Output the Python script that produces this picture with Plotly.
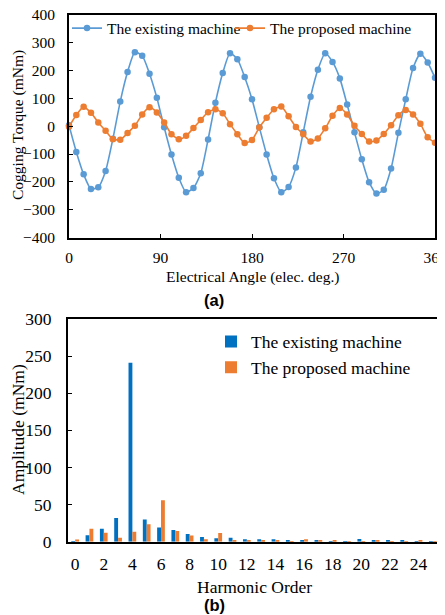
import plotly.graph_objects as go

# ---------------- data ----------------
angle_step = 7.2
angles = [round(i * angle_step, 1) for i in range(51)]

existing_torque = [3, -93, -173, -225, -219, -161, -45, 88, 194, 265, 252, 188, 102,
                   -4, -102, -185, -237, -222, -169, -48, 84, 190, 261, 240, 176, 96,
                   -4, -102, -187, -237, -218, -148, -22, 105, 202, 261, 230, 171, 77,
                   -22, -119, -201, -242, -228, -152, -24, 96, 208, 259, 228, 173]

proposed_torque = [-2, 40, 69, 48, 13, -17, -47, -49, -25, 1, 42, 68, 49,
                   13, -29, -47, -35, -7, 22, 50, 60, 46, 7, -29, -61, -50,
                   -5, 30, 60, 70, 35, -3, -29, -55, -44, -8, 37, 65, 42,
                   1, -28, -55, -52, -28, 3, 39, 58, 42, 8, -40, -60]

harmonic_order = list(range(26))
existing_amp = [0.3, 8.6, 17.5, 32, 241, 30, 19, 15.7, 10.4, 6.2, 4.5, 5.4, 3.2,
                3.2, 3.2, 2.3, 1.5, 1.5, 0.5, 0.3, 3.6, 1.5, 1.3, 1.3, 0.3, 0.3]
proposed_amp = [3, 17.5, 12, 5.4, 13.5, 23.4, 56, 14.4, 8.5, 3.2, 11.7, 2.3, 2.3,
                2.0, 1.5, 0.5, 3.3, 1.5, 2.0, 0.3, 0.3, 1.5, 0.5, 0.3, 1.5, 0.5]

top_xticks = [0, 90, 180, 270, 360]
top_yticks = list(range(-400, 401, 100))
bot_xticks = list(range(0, 25, 2))
bot_yticks = list(range(0, 301, 50))

names = ["The existing machine", "The proposed machine"]

# page is 445x615; the page body adds an 8px margin around the figure
OFF = 8
W, H = 445 - OFF, 615 - OFF
SERIF = "Liberation Serif"
SANS = "Liberation Sans"

def px_x(p):
    return (p - OFF) / W

def px_y(p):
    return 1 - (p - OFF) / H

fig = go.Figure()

fig.add_trace(go.Scatter(x=angles, y=existing_torque, mode="lines+markers", name=names[0],
                         line=dict(color="#5B9BD5", width=1.6, shape="spline", smoothing=0.6),
                         marker=dict(color="#5B9BD5", size=6.5), cliponaxis=False,
                         xaxis="x", yaxis="y", legend="legend"))
fig.add_trace(go.Scatter(x=angles, y=proposed_torque, mode="lines+markers", name=names[1],
                         line=dict(color="#ED7D31", width=1.6, shape="spline", smoothing=0.6),
                         marker=dict(color="#ED7D31", size=6.5), cliponaxis=False,
                         xaxis="x", yaxis="y", legend="legend2"))

fig.add_trace(go.Bar(x=harmonic_order, y=existing_amp, name=names[0],
                     marker=dict(color="#0070C0", line=dict(width=0)),
                     xaxis="x2", yaxis="y2", offsetgroup="a", legend="legend3"))
fig.add_trace(go.Bar(x=harmonic_order, y=proposed_amp, name=names[1],
                     marker=dict(color="#ED7D31", line=dict(width=0)),
                     xaxis="x2", yaxis="y2", offsetgroup="b", legend="legend4"))

axis_common = dict(showline=True, linecolor="black", linewidth=2, mirror=True,
                   showgrid=False, zeroline=False, ticks="inside", ticklen=4,
                   tickcolor="black", tickwidth=1.2, automargin=False,
                   ticklabeloverflow="allow")

fig.update_layout(
    width=W, height=H,
    margin=dict(l=0, r=0, t=0, b=0, autoexpand=False),
    paper_bgcolor="white", plot_bgcolor="white",
    showlegend=True,
    barmode="group", bargap=0.46, bargroupgap=0,
    font=dict(family=SERIF, color="black"),
    xaxis=dict(domain=[px_x(69), px_x(435)], range=[0, 360], tickvals=top_xticks,
               tickfont=dict(size=15.5, family=SERIF), anchor="y",
               ticklabelstandoff=5, **axis_common),
    yaxis=dict(domain=[px_y(237.7), px_y(14.5)], range=[-400, 400], tickvals=top_yticks,
               tickfont=dict(size=15.5, family=SERIF), anchor="x",
               ticklabelstandoff=9, **axis_common),
    xaxis2=dict(domain=[px_x(68), px_x(440)], range=[-0.5, 25.5], tickvals=bot_xticks,
                tickfont=dict(size=17.5, family=SERIF), anchor="y2",
                ticklabelstandoff=5, **{**axis_common, "ticks": ""}),
    yaxis2=dict(domain=[px_y(541.7), px_y(319)], range=[0, 300], tickvals=bot_yticks,
                tickfont=dict(size=17.5, family=SERIF), anchor="x2",
                ticklabelstandoff=11, **axis_common),
    legend=dict(x=px_x(67), y=px_y(28.5), xanchor="left", yanchor="middle",
                orientation="h", font=dict(size=15.5, family=SERIF),
                bgcolor="rgba(0,0,0,0)", itemwidth=30),
    legend2=dict(x=px_x(230), y=px_y(28.5), xanchor="left", yanchor="middle",
                 orientation="h", font=dict(size=15.5, family=SERIF),
                 bgcolor="rgba(0,0,0,0)", itemwidth=30),
    legend3=dict(x=px_x(211), y=px_y(341.7), xanchor="left", yanchor="middle",
                 font=dict(size=17.5, family=SERIF), bgcolor="rgba(0,0,0,0)", itemwidth=30),
    legend4=dict(x=px_x(211), y=px_y(367.3), xanchor="left", yanchor="middle",
                 font=dict(size=17.5, family=SERIF), bgcolor="rgba(0,0,0,0)", itemwidth=30),
)

annotations = [
    dict(text="Cogging Torque (mNm)", x=px_x(18), y=px_y(125), textangle=-90,
         font=dict(size=15.5, family=SERIF)),
    dict(text="Electrical Angle (elec. deg.)", x=px_x(252.5), y=px_y(276.7),
         font=dict(size=15.5, family=SERIF)),
    dict(text="<b>(a)</b>", x=px_x(214), y=px_y(300), font=dict(size=16.5, family=SANS)),
    dict(text="Amplitude (mNm)", x=px_x(18), y=px_y(430), textangle=-90,
         font=dict(size=17.5, family=SERIF)),
    dict(text="Harmonic Order", x=px_x(255), y=px_y(586.7),
         font=dict(size=17.5, family=SERIF)),
    dict(text="<b>(b)</b>", x=px_x(214), y=px_y(605), font=dict(size=16.5, family=SANS)),
]
for a in annotations:
    a.update(xref="paper", yref="paper", showarrow=False, xanchor="center", yanchor="middle")
fig.update_layout(annotations=annotations)

fig.write_html("out.html")
